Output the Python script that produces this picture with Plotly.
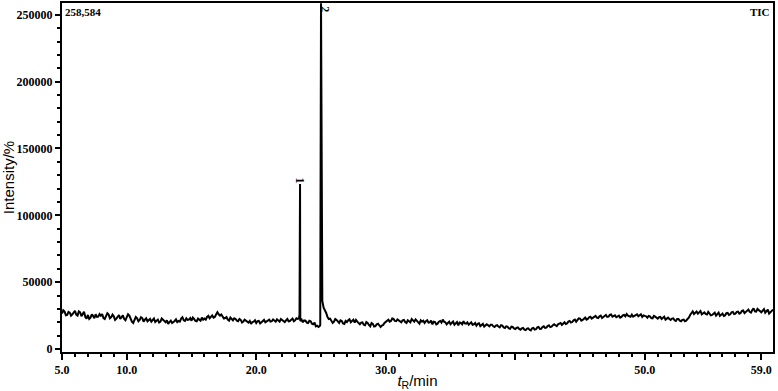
import numpy as np
import plotly.graph_objects as go

# scans every 0.1 min: "even" scans at 5.0, 5.2, ... and "odd" scans at 5.1, 5.3, ...
scan_start = 5.0
scan_step = 0.2

# TIC intensity, thousands of counts, even scans
tic_k = [
    26.5, 28.0, 25.5, 27.2, 26.0,
    28.5, 25.0, 27.5, 26.8, 24.0,
    25.5, 23.5, 24.8, 26.0, 24.2,
    25.0, 23.2, 24.6, 25.8, 23.8,
    24.5, 22.8, 25.5, 24.0, 22.5,
    23.8, 25.0, 20.5, 22.0, 23.0,
    21.8, 23.2, 22.0, 20.8, 22.5,
    21.5, 20.2, 22.0, 20.5, 21.8,
    20.0, 18.8, 21.2, 20.0, 22.2,
    21.0, 22.8, 21.5, 23.0, 22.0,
    21.2, 22.5, 20.8, 22.0, 23.5,
    22.8, 24.0, 23.0, 25.2, 24.0,
    27.5, 25.0, 24.0, 23.2, 22.0,
    23.5, 21.5, 22.5, 20.8, 21.8,
    20.5, 21.2, 19.8, 18.8, 20.5,
    19.5, 21.0, 20.0, 21.8, 20.5,
    22.0, 20.8, 21.5, 22.2, 20.5,
    21.8, 20.2, 22.5, 21.0, 22.8,
    21.5, 22.5, 21.0, 20.0, 21.2,
    19.5, 20.8, 18.5, 17.0, 16.5,
    258.584, 31.0, 27.0, 22.5, 21.0,
    20.5, 21.8, 19.5, 21.0, 18.8,
    20.2, 22.2, 21.0, 19.8, 20.5,
    18.5, 20.0, 17.8, 19.5, 17.0,
    18.8, 17.2, 19.0, 16.5, 18.0,
    20.5, 22.0, 21.0, 22.5, 20.8,
    21.5, 20.0, 21.8, 19.5, 20.8,
    22.5, 20.5, 21.2, 19.0, 20.5,
    19.5, 21.5, 20.0, 18.5, 20.2,
    19.0, 21.0, 22.0, 20.0, 19.2,
    18.5, 20.5, 19.0, 17.8, 19.5,
    20.8, 19.0, 18.2, 20.0, 18.5,
    17.5, 19.2, 18.0, 16.8, 18.5,
    17.0, 18.2, 16.5, 17.8, 16.2,
    17.5, 15.8, 16.8, 15.2, 16.5,
    15.0, 16.2, 14.5, 15.8, 14.2,
    15.5, 14.0, 15.8, 14.8, 16.5,
    15.2, 17.0, 16.0, 17.8, 16.8,
    18.5, 17.2, 19.0, 18.0, 20.0,
    19.2, 21.0, 20.2, 22.0, 21.5,
    22.8, 21.8, 23.5, 22.5, 24.2,
    23.5, 24.8, 23.2, 25.0, 24.0,
    25.5, 24.2, 25.8, 24.5, 23.8,
    25.0, 24.0, 25.5, 26.2, 24.5,
    25.8, 24.8, 26.0, 25.2, 24.0,
    24.8, 23.5, 24.5, 23.0, 24.2,
    22.8, 24.0, 23.2, 22.0, 23.5,
    21.8, 23.0, 21.0, 22.5, 20.8,
    22.0, 21.2, 23.5, 27.0, 26.2,
    28.0, 27.2, 26.0, 27.5, 25.8,
    26.8, 25.5, 27.2, 26.0, 24.8,
    26.5, 25.2, 27.0, 26.0, 27.8,
    26.5, 28.0, 27.0, 28.8, 27.5,
    29.5, 27.2, 30.5, 28.0, 29.0,
    27.5, 29.8, 28.2, 26.5, 28.5,
]

# odd scans
tic_k_odd = [
    29.0, 25.2, 27.8, 25.0, 27.5,
    25.8, 28.2, 24.5, 27.9, 22.8,
    22.5, 26.0, 23.0, 24.0, 26.2,
    26.2, 22.5, 26.8, 23.0, 25.8,
    21.8, 24.8, 22.6, 25.2, 21.5,
    26.0, 22.0, 19.5, 24.0, 20.8,
    23.8, 20.5, 23.0, 21.8, 20.5,
    22.8, 21.5, 19.8, 22.8, 21.0,
    21.5, 20.2, 19.5, 21.0, 20.2,
    20.5, 23.8, 21.0, 21.8, 23.2,
    23.5, 21.0, 22.8, 21.2, 22.0,
    22.0, 24.8, 24.5, 23.5, 25.8,
    26.0, 25.8, 22.8, 24.0, 21.2,
    22.0, 23.0, 21.2, 22.5, 19.8,
    22.0, 20.0, 21.0, 20.2, 21.5,
    20.8, 19.2, 21.5, 20.0, 21.2,
    20.5, 22.2, 20.5, 21.0, 22.5,
    21.0, 21.5, 20.8, 22.0, 20.8,
    23.0, 23.0, 22.0, 21.5, 19.8,
    21.2, 19.0, 19.8, 17.5, 17.2,
    36.0, 29.5, 24.0, 22.8, 19.5,
    22.5, 20.2, 21.5, 19.2, 21.0,
    21.5, 20.0, 22.0, 21.8, 19.8,
    19.8, 18.2, 20.2, 18.0, 19.5,
    16.8, 18.5, 17.8, 17.5, 19.5,
    21.0, 20.5, 22.8, 21.0, 22.2,
    20.2, 21.5, 20.2, 21.5, 20.0,
    21.0, 22.2, 20.0, 21.5, 21.2,
    20.8, 19.8, 21.2, 20.5, 18.5,
    20.5, 19.8, 20.5, 18.5, 20.5,
    19.8, 18.2, 20.2, 19.8, 18.5,
    19.2, 20.0, 19.5, 18.2, 19.5,
    18.8, 17.2, 18.8, 18.0, 17.8,
    18.2, 17.0, 17.5, 16.8, 17.8,
    16.2, 17.0, 15.5, 16.8, 15.5,
    15.8, 15.0, 15.5, 14.5, 15.2,
    14.5, 15.5, 14.5, 16.2, 15.0,
    16.5, 15.8, 17.2, 16.5, 17.8,
    17.8, 18.5, 19.5, 19.0, 18.8,
    20.5, 19.8, 21.5, 20.5, 23.0,
    21.2, 22.8, 22.0, 23.8, 22.8,
    24.5, 23.5, 24.5, 23.2, 24.8,
    24.0, 25.5, 24.2, 25.2, 24.8,
    23.5, 25.2, 24.5, 25.0, 24.2,
    24.2, 25.5, 24.5, 26.0, 25.2,
    24.5, 24.8, 23.2, 24.8, 23.5,
    23.8, 22.5, 24.2, 23.0, 22.5,
    22.8, 21.5, 22.5, 21.2, 21.8,
    20.8, 22.5, 25.5, 28.2, 27.0,
    26.5, 28.5, 27.0, 26.2, 27.8,
    25.2, 26.8, 25.0, 27.2, 26.0,
    24.8, 26.8, 25.5, 27.5, 26.2,
    27.8, 26.5, 28.5, 26.8, 28.2,
    27.8, 29.2, 28.2, 30.0, 28.0,
    28.8, 27.2, 29.5, 27.8, 29.5,
]

# extra scans on the sharp rise of the two peaks
peak_rt = [23.34, 23.38, 24.94]
peak_k = [26.0, 123.5, 18.0]

peak_labels = ["1", "2"]
peak_label_rt = [23.38, 25.35]
peak_label_y = [126000, 254500]

rt_even = np.round(scan_start + scan_step * np.arange(len(tic_k)), 2)
rt_odd = np.round(rt_even + 0.1, 2)
rt = np.concatenate([rt_even, rt_odd, peak_rt])
inten = np.concatenate([tic_k, tic_k_odd, peak_k]) * 1000
order = np.argsort(rt)
rt, inten = rt[order], inten[order]

fig = go.Figure()
fig.add_trace(go.Scatter(x=rt, y=inten, mode="lines",
                         line=dict(color="black", width=2),
                         showlegend=False, hoverinfo="x+y"))

serif = "Liberation Serif"
for lab, x, y in zip(peak_labels, peak_label_rt, peak_label_y):
    fig.add_annotation(x=x, y=y, text=f"<b>{lab}</b>", showarrow=False,
                       textangle=90, font=dict(family=serif, size=12, color="black"))

fig.add_annotation(xref="paper", yref="paper", x=0.002, y=0.998, xanchor="left", yanchor="top",
                   text="<b>258,584</b>", showarrow=False,
                   font=dict(family=serif, size=11, color="black"))
fig.add_annotation(xref="paper", yref="paper", x=0.998, y=0.998, xanchor="right", yanchor="top",
                   text="<b>TIC</b>", showarrow=False,
                   font=dict(family=serif, size=11, color="black"))

xticks = [5, 10, 20, 30, 40, 50, 59]
xtick_text = ["<b>5.0</b>", "<b>10.0</b>", "<b>20.0</b>", "<b>30.0</b>", "", "<b>50.0</b>", "<b>59.0</b>"]
yticks = [0, 50000, 100000, 150000, 200000, 250000]

fig.update_layout(
    width=778, height=391,
    margin=dict(l=62, r=5, t=3, b=39),
    plot_bgcolor="white", paper_bgcolor="white",
    font=dict(family=serif, color="black", size=12),
)
fig.update_xaxes(
    range=[5.0, 59.9], tickmode="array", tickvals=xticks, ticktext=xtick_text,
    ticks="outside", ticklen=6, tickwidth=1.5, tickcolor="black",
    minor=dict(tickmode="linear", tick0=5, dtick=1, ticks="outside", ticklen=3, tickcolor="black"),
    showline=True, linecolor="black", linewidth=2, mirror=True,
    showgrid=False, zeroline=False, automargin=False,
    title=dict(text="<i>t</i><sub>R</sub>/min", standoff=2,
               font=dict(family="Liberation Sans", size=15)),
)
fig.update_yaxes(
    range=[-2200, 258800], tickmode="array", tickvals=yticks,
    ticktext=[f"<b>{v}</b>" for v in yticks],
    ticks="outside", ticklen=5, tickwidth=1.5, tickcolor="black",
    minor=dict(tickmode="linear", tick0=0, dtick=10000, ticks="outside", ticklen=3, tickcolor="black"),
    showline=True, linecolor="black", linewidth=2, mirror=True,
    showgrid=False, zeroline=False, automargin=False,
    title=dict(text="Intensity/%", standoff=4,
               font=dict(family="Liberation Sans", size=15)),
)

# the page body has a default 8px margin; drop it so the figure sits at the window corner
fig.write_html("out.html", config={"displayModeBar": False},
               post_script="document.body.style.margin='0';")
